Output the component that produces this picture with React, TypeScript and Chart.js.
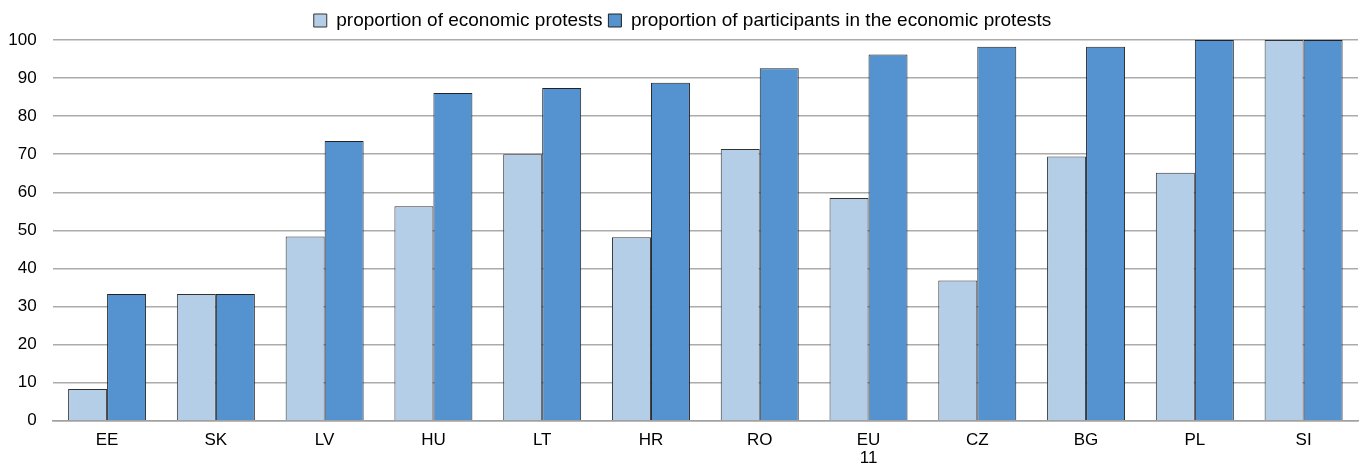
import React, { useEffect, useRef } from "react";
import { Chart, registerables } from "chart.js";

Chart.register(...registerables);

const categories: (string | string[])[] = ["EE", "SK", "LV", "HU", "LT", "HR", "RO", ["EU", "11"], "CZ", "BG", "PL", "SI"];
const protestShare = [8.3, 33.3, 48.4, 56.3, 70.0, 48.2, 71.4, 58.5, 36.8, 69.4, 65.1, 100];
const participantShare = [33.3, 33.3, 73.5, 86.1, 87.4, 88.8, 92.6, 96.2, 98.2, 98.2, 100, 100];
const seriesNames = ["proportion of economic protests", "proportion of participants in the economic protests"];

export default function App() {
  const ref = useRef<HTMLCanvasElement | null>(null);
  useEffect(() => {
    if (!ref.current) return;
    const family = "'Liberation Sans', Arial, sans-serif";
    const chart = new Chart(ref.current, {
      type: "bar",
      data: {
        labels: categories,
        datasets: [
          {
            label: seriesNames[0],
            data: protestShare,
            backgroundColor: "#B4CEE8",
            borderColor: "#333333",
            borderWidth: 1,
            categoryPercentage: 0.717,
            barPercentage: 1,
          },
          {
            label: seriesNames[1],
            data: participantShare,
            backgroundColor: "#5592D0",
            borderColor: "#222222",
            borderWidth: 1,
            categoryPercentage: 0.717,
            barPercentage: 1,
          },
        ],
      },
      options: {
        animation: false,
        responsive: false,
        maintainAspectRatio: false,
        layout: { padding: { left: 7, right: 8, top: 5, bottom: 0 } },
        plugins: {
          legend: {
            position: "top",
            labels: { font: { family, size: 19 }, color: "#000", boxWidth: 13, boxHeight: 13, padding: 6 },
          },
          tooltip: { enabled: false },
        },
        scales: {
          x: {
            grid: { display: false, drawTicks: false },
            border: { color: "#A0A0A0", width: 1.5 },
            ticks: { font: { family, size: 17, lineHeight: 1.06 }, color: "#000", maxRotation: 0, padding: 11 },
            afterFit: (s: any) => { s.height = 47.3; },
          },
          y: {
            min: 0,
            max: 100,
            ticks: { stepSize: 10, font: { family, size: 17 }, color: "#000", padding: 16 },
            grid: { color: "#ABABAB", lineWidth: 1.5, drawTicks: false },
            border: { display: false },
            afterFit: (s: any) => { s.width = 45.7; },
          },
        },
      },
    });
    return () => chart.destroy();
  }, []);
  return (
    <div style={{ position: "fixed", left: 0, top: 0, width: 1366, height: 468, background: "#fff" }}>
      <canvas ref={ref} width={1366} height={468} style={{ width: 1366, height: 468 }} />
    </div>
  );
}
